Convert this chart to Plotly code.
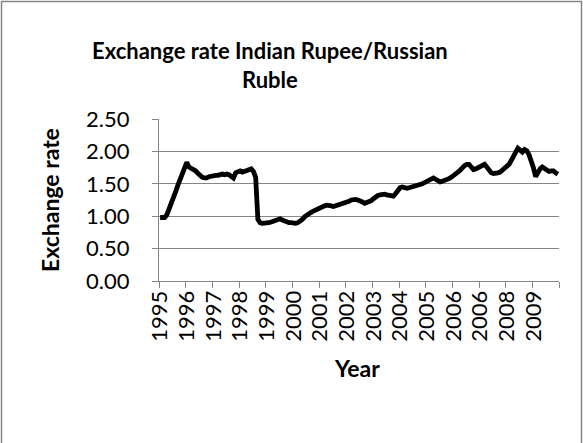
import plotly.graph_objects as go

# Monthly exchange rate, Indian Rupee per Russian Ruble (index scale), Jan..Dec
rate_1995 = [0.98, 0.98, 0.98, 1.02, 1.10, 1.19, 1.28, 1.38, 1.48, 1.57, 1.65, 1.72]
rate_1996 = [1.83, 1.76, 1.74, 1.73, 1.70, 1.66, 1.62, 1.60, 1.59, 1.59, 1.61, 1.62]
rate_1997 = [1.62, 1.63, 1.63, 1.64, 1.65, 1.64, 1.65, 1.64, 1.62, 1.59, 1.67, 1.69]
rate_1998 = [1.70, 1.68, 1.69, 1.71, 1.71, 1.73, 1.69, 1.60, 0.95, 0.90, 0.89, 0.89]
rate_1999 = [0.89, 0.90, 0.91, 0.92, 0.94, 0.95, 0.96, 0.94, 0.92, 0.91, 0.90, 0.90]
rate_2000 = [0.89, 0.89, 0.90, 0.92, 0.95, 0.99, 1.02, 1.04, 1.06, 1.08, 1.10, 1.12]
rate_2001 = [1.13, 1.15, 1.16, 1.17, 1.17, 1.16, 1.15, 1.16, 1.17, 1.19, 1.19, 1.20]
rate_2002 = [1.21, 1.23, 1.25, 1.26, 1.26, 1.25, 1.24, 1.22, 1.20, 1.21, 1.22, 1.24]
rate_2003 = [1.27, 1.30, 1.32, 1.33, 1.34, 1.34, 1.33, 1.32, 1.31, 1.31, 1.35, 1.40]
rate_2004 = [1.44, 1.45, 1.44, 1.43, 1.44, 1.45, 1.45, 1.46, 1.47, 1.48, 1.50, 1.52]
rate_2005 = [1.54, 1.56, 1.58, 1.59, 1.57, 1.54, 1.53, 1.54, 1.55, 1.57, 1.58, 1.60]
rate_2006 = [1.62, 1.65, 1.68, 1.71, 1.75, 1.78, 1.80, 1.80, 1.76, 1.72, 1.73, 1.75]
rate_2007 = [1.77, 1.79, 1.80, 1.76, 1.70, 1.67, 1.66, 1.66, 1.67, 1.68, 1.71, 1.74]
rate_2008 = [1.77, 1.80, 1.86, 1.93, 1.99, 2.05, 2.02, 1.99, 2.03, 2.01, 1.95, 1.86]
rate_2009 = [1.75, 1.61, 1.68, 1.73, 1.76, 1.74, 1.70, 1.69, 1.70, 1.70, 1.67, 1.65]

year_labels = ["1995", "1996", "1997", "1998", "1999", "2000", "2001", "2002",
               "2003", "2004", "2005", "2006", "2006", "2008", "2009"]
y_ticks = [0.0, 0.5, 1.0, 1.5, 2.0, 2.5]

rates = (rate_1995 + rate_1996 + rate_1997 + rate_1998 + rate_1999 + rate_2000
         + rate_2001 + rate_2002 + rate_2003 + rate_2004 + rate_2005 + rate_2006
         + rate_2007 + rate_2008 + rate_2009)
months = list(range(len(rates)))

W, H = 583, 443
L, R, T, B = 159, 24, 119, 162
PW, PH = W - L - R, H - T - B


def px_x(px):
    return (px - L) / PW


def px_y(py):
    return (H - B - py) / PH


GRID = "#868686"
FONT = "Lato, 'Open Sans', sans-serif"
TICK_SIZE = 22
AXIS_TITLE_SIZE = 23

fig = go.Figure()
fig.add_trace(go.Scatter(
    x=months, y=rates, mode="lines",
    line=dict(color="black", width=4.8, shape="linear"),
    hoverinfo="skip", showlegend=False,
))

fig.update_layout(
    width=W, height=H,
    margin=dict(l=L, r=R, t=T, b=B, pad=0),
    paper_bgcolor="white", plot_bgcolor="white",
    font=dict(family=FONT, color="black", size=TICK_SIZE),
    showlegend=False,
    xaxis=dict(
        range=[-0.5, len(rates) - 0.5],
        tickmode="array",
        tickvals=[12 * k for k in range(len(year_labels))],
        ticktext=year_labels,
        tickangle=-90,
        ticks="",
        showgrid=False, zeroline=False,
        showline=True, linecolor=GRID, linewidth=1,
        tickfont=dict(family=FONT, size=TICK_SIZE, color="black"),
        minor=dict(
            tickmode="array",
            tickvals=[12 * k - 0.5 for k in range(len(year_labels) + 1)],
            ticks="outside", ticklen=6, tickwidth=1, tickcolor=GRID,
            showgrid=False,
        ),
        fixedrange=True,
    ),
    yaxis=dict(
        range=[0, 2.5],
        tickmode="array",
        tickvals=y_ticks,
        ticktext=[f"{v:.2f}" for v in y_ticks],
        ticks="outside", ticklen=6, tickwidth=1, tickcolor=GRID,
        ticklabelstandoff=18,
        showgrid=True, gridcolor=GRID, gridwidth=1,
        zeroline=False,
        showline=True, linecolor=GRID, linewidth=1,
        tickfont=dict(family=FONT, size=TICK_SIZE, color="black"),
        fixedrange=True,
    ),
)

fig.add_annotation(
    text="<b>Exchange rate Indian Rupee/Russian<br>Ruble</b>",
    xref="paper", yref="paper", x=px_x(270), y=px_y(65),
    xanchor="center", yanchor="middle", showarrow=False,
    font=dict(family=FONT, size=22, color="black"),
)
fig.add_annotation(
    text="<b>Exchange rate</b>",
    xref="paper", yref="paper", x=px_x(50), y=px_y(200),
    xanchor="center", yanchor="middle", textangle=-90, showarrow=False,
    font=dict(family=FONT, size=AXIS_TITLE_SIZE, color="black"),
)
fig.add_annotation(
    text="<b>Year</b>",
    xref="paper", yref="paper", x=px_x(357), y=px_y(368),
    xanchor="center", yanchor="middle", showarrow=False,
    font=dict(family=FONT, size=AXIS_TITLE_SIZE, color="black"),
)

# chart-area frame
fig.add_shape(
    type="rect", xref="paper", yref="paper",
    x0=px_x(1.5), x1=px_x(581.5), y0=px_y(446), y1=px_y(1.5),
    line=dict(color=GRID, width=1.5), fillcolor="rgba(0,0,0,0)", layer="below",
)

fig.write_html("out.html", config={"displayModeBar": False})
